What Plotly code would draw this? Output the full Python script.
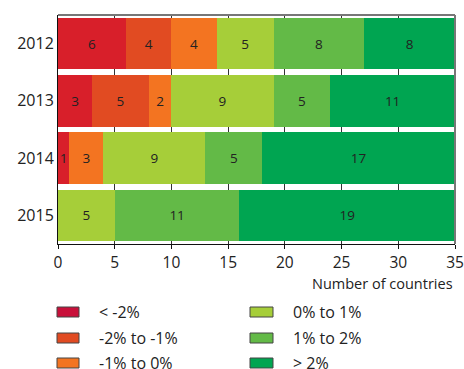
import plotly.graph_objects as go

years = ["2012", "2013", "2014", "2015"]
categories = ["< -2%", "-2% to -1%", "-1% to 0%", "0% to 1%", "1% to 2%", "> 2%"]
bar_colors = ["#D81F2A", "#E14B22", "#F37421", "#A6CE39", "#63BA47", "#00A551"]
swatch_colors = ["#C8103A", "#E14B22", "#F37421", "#A6CE39", "#63BA47", "#00A551"]

below_m2 = [6, 3, 1, 0]
m2_to_m1 = [4, 5, 0, 0]
m1_to_0 = [4, 2, 3, 0]
p0_to_1 = [5, 9, 9, 5]
p1_to_2 = [8, 5, 5, 11]
above_2 = [8, 11, 17, 19]
series = [below_m2, m2_to_m1, m1_to_0, p0_to_1, p1_to_2, above_2]

x_ticks = [0, 5, 10, 15, 20, 25, 30, 35]

FONT = "Open Sans"
W, H = 464, 369
ML, MR, MT, MB = 58, 9, 15, 125

fig = go.Figure()
for name, vals, col in zip(categories, series, bar_colors):
    fig.add_trace(go.Bar(
        y=years, x=vals, name=name, orientation="h",
        marker=dict(color=col, line=dict(width=0)),
        text=[str(v) if v > 0 else "" for v in vals],
        textposition="inside", insidetextanchor="middle",
        textfont=dict(family=FONT, size=13.5, color="#222222"),
        showlegend=False,
    ))

fig.update_layout(
    barmode="stack", bargap=0.1,
    width=W, height=H,
    margin=dict(l=ML, r=MR, t=MT, b=MB, autoexpand=False),
    plot_bgcolor="white", paper_bgcolor="white",
    font=dict(family=FONT, size=15, color="#222222"),
    uniformtext=dict(mode="show", minsize=12),
)
fig.update_xaxes(
    range=[0, 35], tickvals=x_ticks, ticktext=[str(t) for t in x_ticks],
    showgrid=True, gridcolor="#333333", gridwidth=1,
    showline=True, linecolor="#111111", linewidth=1,
    ticks="outside", ticklen=4, tickcolor="#111111",
    tickfont=dict(family=FONT, size=15.5, color="#222222"),
    zeroline=False, automargin=False,
)
fig.update_yaxes(
    categoryorder="array", categoryarray=years, autorange="reversed",
    showline=True, linecolor="#111111", linewidth=1,
    ticks="", ticklen=0, tickfont=dict(family=FONT, size=16, color="#222222"),
    showgrid=False, automargin=False,
)

# gray frame along the top and right edges of the plot area
fig.add_shape(type="line", xref="paper", yref="paper", x0=0, x1=1, y0=1, y1=1,
              line=dict(color="#777777", width=2))
fig.add_shape(type="line", xref="paper", yref="paper", x0=1, x1=1, y0=0, y1=1,
              line=dict(color="#777777", width=2))

fig.add_annotation(text="Number of countries", xref="paper", yref="paper",
                   x=1, y=0, xanchor="right", yanchor="top", yshift=-28,
                   showarrow=False, font=dict(family=FONT, size=14.5, color="#222222"))

# two-column legend drawn below the chart
ph = H - MT - MB
def py(pix):
    return (H - MB - pix) / ph

def px(pix):
    return (pix - ML) / (W - ML - MR)

row_y = [312, 338, 363]
col_x = [(57, 79, 97), (250, 273, 291)]
for i, (name, col) in enumerate(zip(categories, swatch_colors)):
    c, r = divmod(i, 3)
    sx0, sx1, tx = col_x[c]
    yc = row_y[r]
    fig.add_shape(type="rect", xref="paper", yref="paper",
                  x0=px(sx0), x1=px(sx1), y0=py(yc - 5), y1=py(yc + 5),
                  fillcolor=col, line=dict(color="#444444", width=1))
    fig.add_annotation(text=name, xref="paper", yref="paper",
                       x=px(tx), y=py(yc), xanchor="left", yanchor="middle",
                       showarrow=False, font=dict(family=FONT, size=16, color="#222222"))

fig.write_html("out.html")
